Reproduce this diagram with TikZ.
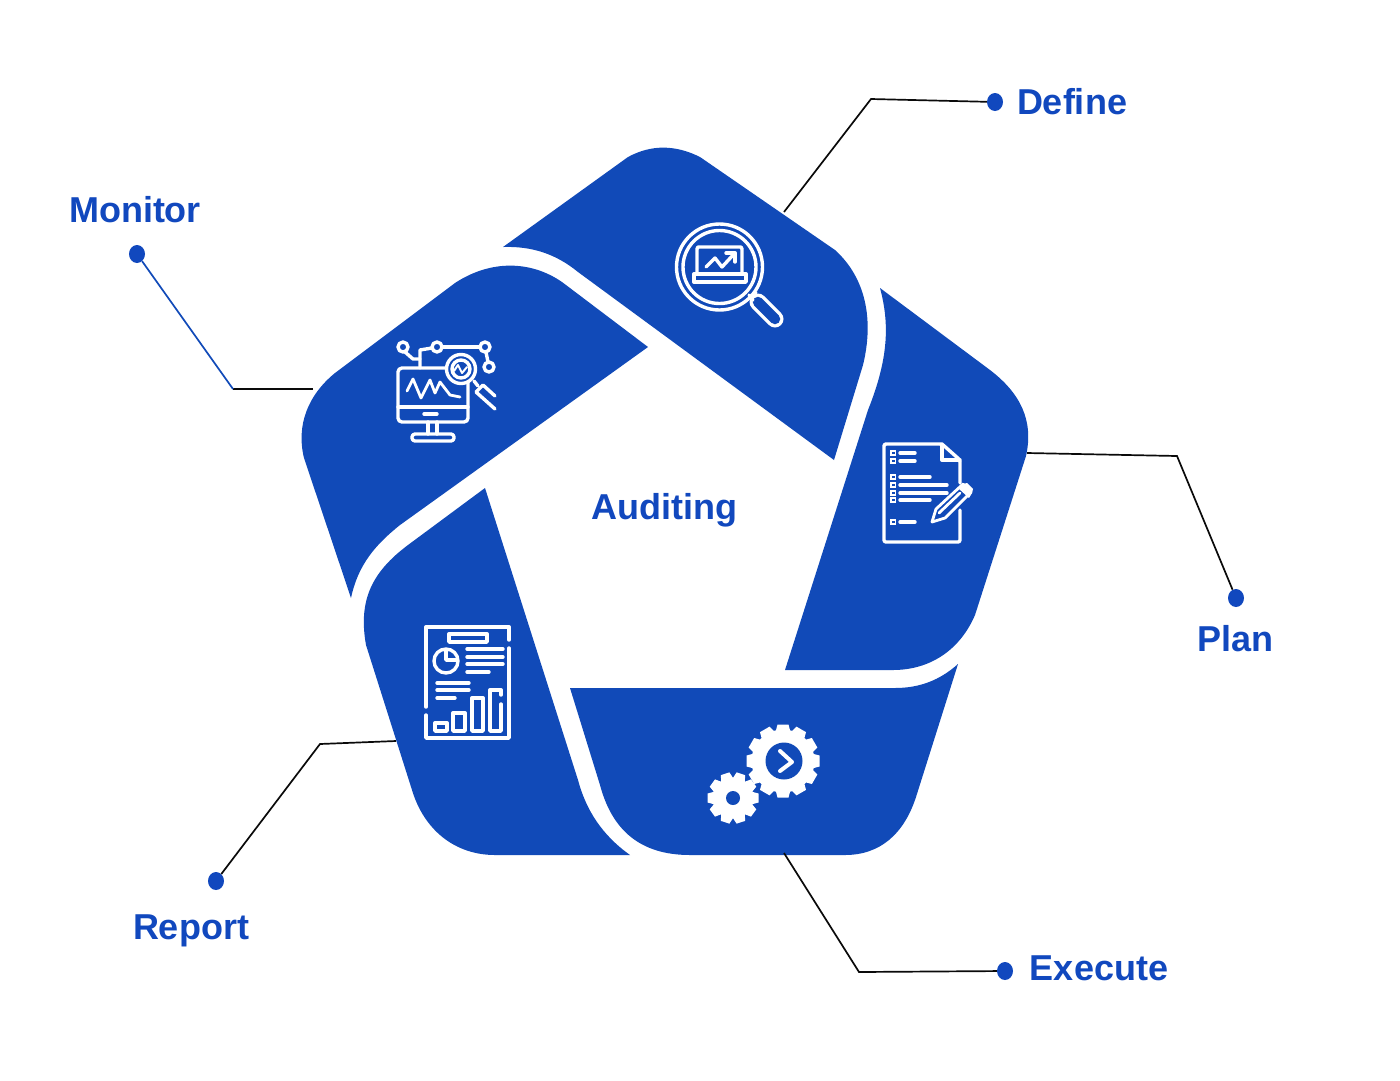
\documentclass[tikz,border=0pt]{standalone}
\usepackage{fontspec}
\setmainfont{Liberation Sans}
\usepackage{xcolor}
\definecolor{auBlue}{RGB}{17,74,184}
\definecolor{auText}{RGB}{17,72,190}
\definecolor{auInk}{RGB}{10,10,10}
\usetikzlibrary{positioning,arrows.meta,calc,shapes.geometric}

\begin{document}
\begin{tikzpicture}[
  segment/.style={fill=auBlue,draw=none},
  title/.style={font=\fontsize{36}{40}\selectfont\bfseries,text=auText,anchor=base,inner sep=0pt},
  dotnode/.style={ellipse,fill=auText,minimum width=16pt,minimum height=18pt,inner sep=0pt},
  leader/.style={auInk,line width=1.7pt},
  leaderblue/.style={auBlue,line width=1.7pt},
  icon/.style={white,line width=3.4pt,line cap=round,line join=round},
  thin icon/.style={white,line width=2.8pt,line cap=round,line join=round},
  x=1pt,y=-1pt]

  \useasboundingbox (0,0) rectangle (1400,1080);

  % the five segments
  \fill[segment] (503,247) -- (628,157) .. controls (652,144) and (676,145) .. (700,157)
    -- (835,250) .. controls (866,278) and (874,320) .. (863,365) -- (834,460)
    -- (578,272) .. controls (556,254) and (532,246) .. (503,247) -- cycle;
  \fill[segment] (880,288) -- (990,370) .. controls (1020,393) and (1034,420) .. (1026,456)
    -- (975,615) .. controls (960,650) and (930,670) .. (893,670)
    -- (785,670) -- (868,410) .. controls (888,360) and (890,325) .. (880,288) -- cycle;
  \fill[segment] (570,688) -- (895,688) .. controls (920,688) and (940,680) .. (958,664)
    -- (916,797) .. controls (904,834) and (880,855) .. (845,855)
    -- (690,855) .. controls (640,855) and (612,830) .. (600,785) -- cycle;
  \fill[segment] (485,488) -- (408,545) .. controls (372,572) and (358,600) .. (366,645)
    -- (412,790) .. controls (424,830) and (455,855) .. (495,855)
    -- (630,855) .. controls (602,835) and (586,810) .. (578,780) -- cycle;
  \fill[segment] (648,347) -- (562,282) .. controls (530,260) and (490,260) .. (455,283)
    -- (335,373) .. controls (308,395) and (296,425) .. (304,458)
    -- (351,598) .. controls (358,565) and (375,545) .. (400,525) -- cycle;

  % labels and dots
  \foreach \name/\x/\y/\lx/\ly in {Define/995/102/1072/114,Monitor/137/254/135/222,Plan/1236/598/1235/651,Execute/1005/971/1099/980,Report/216/881/191/939}{
    \node[dotnode] (dot\name) at (\x,\y) {};
    \node[title] (lab\name) at (\lx,\ly) {\name};
  }
  \node[title] (labCentre) at (664,519) {Auditing};

  \coordinate (defA) at (784,212);
  \coordinate (defB) at (871,99);
  \coordinate (monA) at (313,389);
  \coordinate (monB) at (233,389);
  \coordinate (plaA) at (1027,453);
  \coordinate (plaB) at (1177,456);
  \coordinate (exeA) at (784,853);
  \coordinate (exeB) at (859,972);
  \coordinate (repA) at (396,741);
  \coordinate (repB) at (320,744);

  \draw[leader] (defA) -- (defB) -- (dotDefine);
  \draw[leader] (monA) -- (monB);
  \draw[leaderblue] (monB) -- (dotMonitor);
  \draw[leader] (plaA) -- (plaB) -- (dotPlan);
  \draw[leader] (exeA) -- (exeB) -- (dotExecute);
  \draw[leader] (repA) -- (repB) -- (dotReport);

  % define icon
  \draw[icon] (719.5,267) circle (43);
  \draw[icon] (719.5,267) circle (36.5);
  \draw[icon] (697,274) -- (697,249) -- (698,247) -- (741,247) -- (742,249) -- (742,274);
  \draw[icon] (694,274) rectangle (746,282);
  \draw[icon] (706,267) -- (715,258) -- (722,267) -- (734,254);
  \draw[icon] (726,253) -- (735,253) -- (735,262);
  \draw[white,line width=17pt,line cap=round] (758,302) -- (775,319);
  \draw[auBlue,line width=10.5pt,line cap=round] (758,302) -- (775,319);
  \draw[icon] (750,298) -- (756,293) (753,300) -- (749,295);

  % monitor icon
  \draw[icon,rounded corners=4pt] (398,368) rectangle (468,422);
  \draw[icon] (398,407) -- (468,407);
  \draw[icon] (424,414) -- (437,414);
  \draw[icon] (428,422) -- (428,434) (437,422) -- (437,434);
  \draw[icon,rounded corners=3pt] (412,434) rectangle (454,441);
  \draw[thin icon] (407,391) -- (413,379) -- (421,398) -- (430,380) -- (435,393) -- (440,382) -- (450,395) -- (460,397);
  \draw[icon] (405,352) -- (413,359) -- (420,359);
  \draw[icon] (420,368) -- (420,350) -- (432,348);
  \draw[icon] (442,347) -- (480,347);
  \draw[icon] (486,352) -- (488,362);
  \foreach \cx/\cy in {403/347,437/347,485/347,489/367}{
    \draw[icon] (\cx,\cy) circle (5);
  }
  \filldraw[icon,fill=auBlue] (461,369) circle (14.5);
  \draw[icon] (461,369) circle (9);
  \draw[white,line width=2pt,line cap=round,line join=round] (454,371) -- (458,365) -- (462,373) -- (467,367);
  \draw[icon] (474,381) -- (478,386);
  \draw[icon] (483,385) -- (495,396) (476,392) -- (495,409) (483,385) -- (476,392);

  % plan icon
  \draw[icon,rounded corners=2pt] (960,483) -- (960,460) -- (942,444) -- (884,444) -- (884,542) -- (960,542) -- (960,510);
  \draw[icon] (942,444) -- (942,460) -- (960,460);
  \foreach \ly/\lend in {453/915,461/915,477/930,485/947,493/947,500/930,522/915}{
    \draw[white,line width=1.8pt] (891,\ly-2) rectangle (895.5,\ly+2);
    \draw[icon] (900,\ly) -- (\lend,\ly);
  }
  \filldraw[thin icon,fill=auBlue] (932,522) -- (936,509) -- (963,484) -- (971,492) -- (945,518) -- cycle;
  \fill[white] (963,484) -- (967,483) -- (973,489) -- (972,493) -- (969,498) -- (958,488) -- cycle;
  \draw[thin icon] (939,513) -- (960,493);

  % report icon
  \draw[icon] (509,640) -- (509,627) -- (426,627) -- (426,707);
  \draw[icon] (426,715) -- (426,738) -- (509,738) -- (509,648);
  \draw[icon] (449,634) rectangle (487,642);
  \draw[icon] (446,661) circle (12);
  \draw[icon] (446,650) -- (446,660) -- (457,660);
  \foreach \ly/\lx/\lend in {649/467/503,657/467/503,664/467/503,672/467/489,683/437/469,690/437/469,698/437/455}{
    \draw[icon] (\lx,\ly) -- (\lend,\ly);
  }
  \draw[icon] (435,723) rectangle (447,731);
  \draw[icon] (453,713) rectangle (465,731);
  \draw[icon] (472,698) rectangle (483,731);
  \draw[icon] (501,695) -- (501,690) -- (490,690) -- (490,731) -- (501,731) -- (501,704);

  % execute icon
  \fill[white] (783,761) circle (31.5);
  \foreach \a in {0,30,...,330}{
    \fill[white,rotate around={\a:(783,761)}] (775,734) -- (777.5,724.5) -- (788.5,724.5) -- (791,734) -- cycle;
  }
  \fill[auBlue] (784,761) circle (18.5);
  \draw[white,line width=4pt,line cap=round,line join=round] (780,751) -- (792,762) -- (780,771);
  \fill[white] (733,798) circle (20.5);
  \foreach \a in {18,54,...,342}{
    \fill[white,rotate around={\a:(733,798)}] (726.5,780) -- (728.5,772.5) -- (737.5,772.5) -- (739.5,780) -- cycle;
  }
  \fill[auBlue] (733,798) circle (7);
\end{tikzpicture}
\end{document}
